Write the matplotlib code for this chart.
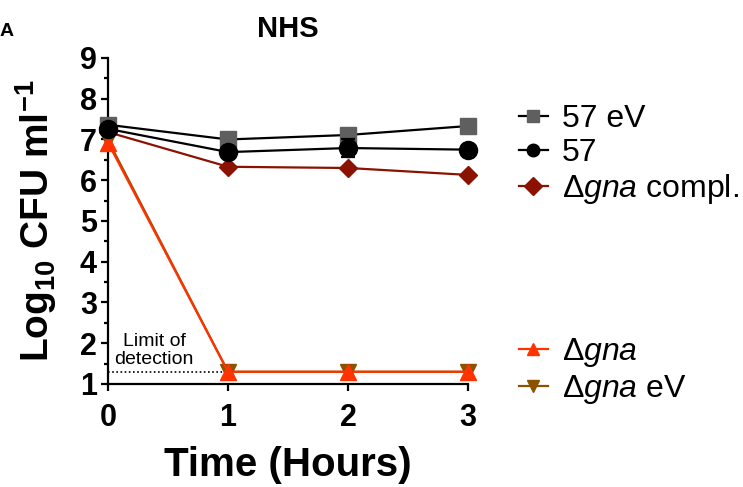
import numpy as np
import matplotlib
matplotlib.use("Agg")
import matplotlib.pyplot as plt

plt.rcParams['font.family'] = ['Liberation Sans', 'DejaVu Sans']
plt.rcParams['mathtext.fontset'] = 'custom'
plt.rcParams['mathtext.rm'] = 'Liberation Sans'
plt.rcParams['mathtext.it'] = 'Liberation Sans:italic'
plt.rcParams['mathtext.bf'] = 'Liberation Sans:bold'

# data
hours = [0, 1, 2, 3]
s57ev = [7.36, 7.0, 7.11, 7.33]
s57 = [7.26, 6.69, 6.79, 6.75]
s57_err = [0.05, 0.05, 0.22, 0.05]
compl = [7.18, 6.33, 6.30, 6.13]
dgna = [6.92, 1.3, 1.3, 1.3]
dgna_ev = [6.98, 1.3, 1.3, 1.3]
lod = 1.3

fig = plt.figure(figsize=(7.43, 4.87), dpi=100)
ax = fig.add_axes([0.1454, 0.2115, 0.4846, 0.6695])

lw = 1.6
h1, = ax.plot(hours, s57ev, color='black', lw=lw, marker='s', ms=12,
              mfc='#5f5f5f', mec='#5f5f5f', clip_on=False, zorder=3)
eb = ax.errorbar(hours, s57, yerr=s57_err, color='black', lw=lw, marker='o', ms=13,
                 capsize=5, capthick=lw, elinewidth=lw, clip_on=False, zorder=4)
h2 = eb[0]
h3, = ax.plot(hours, compl, color='#8b1200', lw=lw, marker='D', ms=9,
              clip_on=False, zorder=3)
h5, = ax.plot(hours, dgna_ev, color='#8b5200', lw=lw, marker='v', ms=12,
              clip_on=False, zorder=3)
h4, = ax.plot(hours, dgna, color='#ff3300', lw=lw, marker='^', ms=12,
              clip_on=False, zorder=4)

# limit of detection
ax.plot([0, 1], [lod, lod], color='black', lw=1.2, ls=(0, (1, 1.5)), zorder=2)
ax.text(0.385, 1.40, "Limit of\ndetection", ha='center', va='bottom', fontsize=14,
        linespacing=1.05)

ax.set_xlim(0, 3)
ax.set_ylim(1, 9)
ax.set_xticks([0, 1, 2, 3])
ax.set_yticks(range(1, 10))
ax.set_yticks(np.arange(1.5, 9, 1.0), minor=True)
for s in ['top', 'right']:
    ax.spines[s].set_visible(False)
for s in ['left', 'bottom']:
    ax.spines[s].set_linewidth(1.6)
ax.tick_params(axis='both', which='major', direction='out', length=5, width=1.6,
               labelsize=22, pad=3)
ax.tick_params(axis='x', which='major', pad=9)
ax.tick_params(axis='y', which='minor', direction='out', length=3, width=1.6)
for lbl in ax.get_xticklabels() + ax.get_yticklabels():
    lbl.set_fontweight('bold')

ax.set_title("NHS", fontsize=21, fontweight='bold', pad=15)
ax.set_xlabel("Time (Hours)", fontsize=29, fontweight='bold', labelpad=9)
ax.set_ylabel(r"Log$_{\mathbf{10}}$ CFU ml$^{\mathbf{-1}}$", fontsize=28,
              fontweight='bold', labelpad=15)

fig.text(0.0, 0.935, "A", fontsize=14, fontweight='bold', ha='left', va='center')

leg_kw = dict(loc='upper left', frameon=False, fontsize=23, handlelength=0.9,
              handletextpad=0.45, labelspacing=0.13, borderaxespad=0, borderpad=0)
leg1 = fig.legend([h1, h2, h3], ["57 eV", "57", r"$\Delta\mathit{gna}$ compl."],
                  bbox_to_anchor=(0.6985, 0.787), **leg_kw)
leg2 = fig.legend([h4, h5], [r"$\Delta\mathit{gna}$", r"$\Delta\mathit{gna}$ eV"],
                  bbox_to_anchor=(0.6985, 0.31), **leg_kw)
for leg in (leg1, leg2):
    for h in leg.legend_handles:
        if hasattr(h, 'set_markersize'):
            h.set_markersize(9)

fig.savefig("out.png", dpi=100)
